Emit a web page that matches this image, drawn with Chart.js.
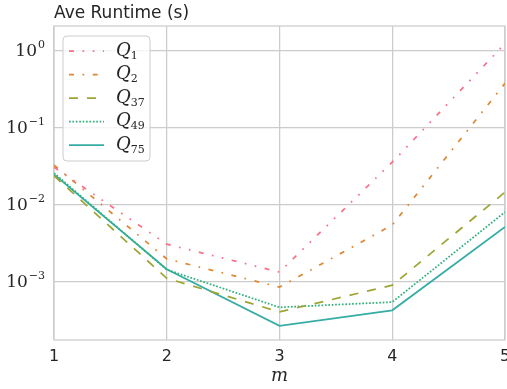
<!DOCTYPE html>
<html>
<head>
<meta charset="utf-8">
<script src="https://cdn.jsdelivr.net/npm/chart.js@4.4.0/dist/chart.umd.min.js"></script>
<style>
  html, body { margin: 0; padding: 0; background: #fff; }
</style>
</head>
<body>
<canvas id="runtimeChart" width="507" height="389"></canvas>
<script>
// values (average runtime in seconds, log scale)
const mValues = [1, 2, 3, 4, 5];
const q1 = [0.031, 3.1e-3, 1.35e-3, 0.036, 1.25];
const q2 = [0.033, 2.0e-3, 8.6e-4, 5.5e-3, 0.38];
const q37 = [0.024, 1.12e-3, 4.1e-4, 9.1e-4, 0.0147];
const q49 = [0.026, 1.45e-3, 4.7e-4, 5.5e-4, 8.1e-3];
const q75 = [0.025, 1.47e-3, 2.7e-4, 4.3e-4, 5.2e-3];
const seriesSubs = ["1", "2", "37", "49", "75"];
const seriesValues = [q1, q2, q37, q49, q75];
const yTicks = [1e-3, 1e-2, 1e-1, 1];
const yTickExps = ["\u22123", "\u22122", "\u22121", "0"];

// styles
const colors = ["#f77189", "#dc8932", "#9ea535", "#33b07a", "#36ada4"];
const dashes = [[5, 8.5, 1.7, 8.5, 1.7, 8.5], [5, 8.5, 1.7, 8.5], [9, 9], [1.7, 1.7], []];
const gridColor = "#cccccc";
const textColor = "#262626";

const datasets = seriesValues.map((vals, i) => ({
  label: "Q" + seriesSubs[i],
  data: vals.map((v, j) => ({ x: mValues[j], y: v })),
  borderColor: colors[i],
  borderDash: dashes[i],
  borderWidth: 1.75,
  pointRadius: 0,
  fill: false,
  tension: 0
}));

// frame, title, y labels, legend box
const decorations = {
  id: "decorations",
  beforeDatasetsDraw(chart) {
    const { ctx, chartArea: a } = chart;
    ctx.save();
    ctx.strokeStyle = gridColor;
    ctx.lineWidth = 1.25;
    ctx.strokeRect(a.left, a.top, a.right - a.left, a.bottom - a.top);
    ctx.restore();
  },
  afterDraw(chart) {
    const { ctx, chartArea: a } = chart;
    const yScale = chart.scales.y;
    ctx.save();
    ctx.fillStyle = textColor;

    // title
    ctx.font = '17px "DejaVu Sans"';
    ctx.textBaseline = "middle";
    ctx.textAlign = "left";
    ctx.fillText("Ave Runtime (s)", a.left, 14);

    // y tick labels 10^k
    yTicks.forEach((v, i) => {
      const y = yScale.getPixelForValue(v);
      ctx.font = '11px "DejaVu Serif"';
      const ew = ctx.measureText(yTickExps[i]).width;
      const right = a.left - 9;
      ctx.textAlign = "right";
      ctx.fillText(yTickExps[i], right, y - 6);
      ctx.font = '17px "DejaVu Serif"';
      ctx.fillText("10", right - ew - 1, y + 1);
    });

    // legend
    const bx = a.left + 9, by = a.top + 10, bw = 87, bh = 125;
    ctx.beginPath();
    ctx.roundRect(bx, by, bw, bh, 4);
    ctx.fillStyle = "rgba(255,255,255,0.8)";
    ctx.fill();
    ctx.strokeStyle = gridColor;
    ctx.lineWidth = 1;
    ctx.stroke();

    chart.data.datasets.forEach((ds, i) => {
      const cy = by + 15 + i * 23.5;
      ctx.beginPath();
      ctx.setLineDash(dashes[i]);
      ctx.strokeStyle = colors[i];
      ctx.lineWidth = 1.75;
      ctx.moveTo(bx + 6, cy);
      ctx.lineTo(bx + 41, cy);
      ctx.stroke();
      ctx.setLineDash([]);

      ctx.fillStyle = textColor;
      ctx.textAlign = "left";
      ctx.font = 'italic 18px "DejaVu Serif"';
      ctx.fillText("Q", bx + 53, cy);
      const qw = ctx.measureText("Q").width;
      ctx.font = '11px "DejaVu Serif"';
      ctx.fillText(seriesSubs[i], bx + 53 + qw, cy + 5);
    });
    ctx.restore();
  }
};

const chartCtx = document.getElementById("runtimeChart").getContext("2d");
const runtimeChart = new Chart(chartCtx, {
  type: "line",
  data: { datasets: datasets },
  options: {
    responsive: false,
    animation: false,
    layout: { padding: { top: 26, right: 2, left: 0, bottom: 0 } },
    plugins: {
      legend: { display: false },
      tooltip: { enabled: false }
    },
    scales: {
      x: {
        type: "linear",
        min: 1,
        max: 5,
        ticks: {
          stepSize: 1,
          padding: 7,
          color: textColor,
          font: { family: "DejaVu Sans", size: 16 }
        },
        grid: { color: gridColor, lineWidth: 1.25, drawTicks: false },
        border: { display: false },
        title: {
          display: true,
          text: "m",
          color: textColor,
          font: { family: "DejaVu Serif", size: 18, style: "italic" },
          padding: { top: 0, bottom: 2 }
        },
        afterFit(s) { s.height = 49; s.paddingLeft = 0; s.paddingRight = 0; }
      },
      y: {
        type: "logarithmic",
        min: 1.77e-4,
        max: 2.11,
        afterBuildTicks(s) { s.ticks = yTicks.map(v => ({ value: v })); },
        ticks: { display: false },
        grid: { color: gridColor, lineWidth: 1.25, drawTicks: false },
        border: { display: false },
        afterFit(s) { s.width = 54; }
      }
    }
  },
  plugins: [decorations]
});
</script>
</body>
</html>
